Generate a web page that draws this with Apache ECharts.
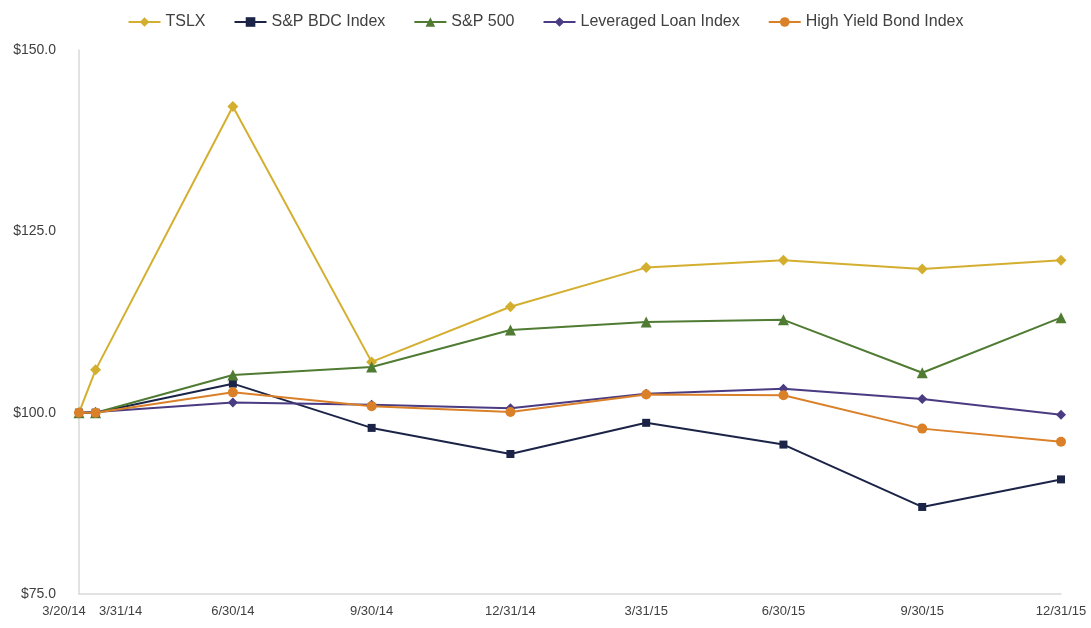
<!DOCTYPE html>
<html>
<head>
<meta charset="utf-8">
<script src="https://cdn.jsdelivr.net/npm/echarts@6/dist/echarts.min.js"></script>
<style>
  html, body { margin: 0; padding: 0; background: #ffffff; }
  #chart { width: 1091px; height: 628px; }
</style>
</head>
<body>
<div id="chart"></div>
<script>
// ---- Data ----
const dates = ['2014-03-20','2014-03-31','2014-06-30','2014-09-30','2014-12-31','2015-03-31','2015-06-30','2015-09-30','2015-12-31'];
const tickLabels = ['3/20/14','3/31/14','6/30/14','9/30/14','12/31/14','3/31/15','6/30/15','9/30/15','12/31/15'];
const seriesNames = ['TSLX','S&P BDC Index','S&P 500','Leveraged Loan Index','High Yield Bond Index'];
const tslx      = [100.0, 105.9, 142.2, 107.0, 114.6, 120.0, 121.0, 119.8, 121.0];
const spBdc     = [100.0, 100.0, 104.0,  97.9,  94.3,  98.6,  95.6,  87.0,  90.8];
const sp500     = [100.0, 100.0, 105.2, 106.3, 111.4, 112.5, 112.8, 105.5, 113.1];
const levLoan   = [100.0, 100.1, 101.4, 101.1, 100.6, 102.6, 103.3, 101.9,  99.7];
const highYield = [100.0, 100.0, 102.8, 100.9, 100.1, 102.5, 102.4,  97.8,  96.0];
const yTicks = [75, 100, 125, 150];

// Days elapsed since the first date: the x position of each observation.
function utc(s) { const p = s.split('-').map(Number); return Date.UTC(p[0], p[1] - 1, p[2]); }
const t0 = utc(dates[0]);
const xVals = dates.map(s => Math.round((utc(s) - t0) / 86400000));
function pairs(vals) { return vals.map((v, i) => [xVals[i], v]); }

const colors = ['#D4AF2F', '#1B2447', '#4F7B32', '#4A3B82', '#DA8029'];
const symbols = ['diamond', 'rect', 'triangle', 'diamond', 'circle'];
const sizes = [11, 8, 11, 10, 10];
const allVals = [tslx, spBdc, sp500, levLoan, highYield];

const font = 'Liberation Sans, Arial, sans-serif';
const chart = echarts.init(document.getElementById('chart'), null, { renderer: 'canvas' });

chart.setOption({
  animation: false,
  backgroundColor: '#ffffff',
  color: colors,
  legend: {
    top: 9,
    left: 'center',
    itemGap: 28,
    itemWidth: 32,
    itemHeight: 12,
    textStyle: { fontFamily: font, fontSize: 16, color: '#404040' },
    data: seriesNames
  },
  grid: { left: 79, right: 30, top: 50, bottom: 34, containLabel: false },
  xAxis: {
    type: 'value',
    min: xVals[0],
    max: xVals[xVals.length - 1],
    axisLine: { show: true, onZero: false, lineStyle: { color: '#d9d9d9', width: 1.5 } },
    axisTick: { show: false },
    splitLine: { show: false },
    axisLabel: {
      customValues: xVals,
      hideOverlap: false,
      margin: 11,
      color: '#404040',
      fontFamily: font,
      fontSize: 13,
      formatter: function (v) {
        const i = xVals.indexOf(v);
        if (i < 0) return '';
        if (i === 0) return '{l|' + tickLabels[i] + '}';
        if (i === 1) return '{r|' + tickLabels[i] + '}';
        return tickLabels[i];
      },
      rich: {
        l: { padding: [0, 30, 0, 0], color: '#404040', fontFamily: font, fontSize: 13 },
        r: { padding: [0, 0, 0, 50], color: '#404040', fontFamily: font, fontSize: 13 }
      }
    }
  },
  yAxis: {
    type: 'value',
    min: yTicks[0],
    max: yTicks[yTicks.length - 1],
    interval: 25,
    axisLine: { show: true, lineStyle: { color: '#d9d9d9', width: 1.5 } },
    axisTick: { show: false },
    splitLine: { show: false },
    axisLabel: {
      margin: 23,
      color: '#404040',
      fontFamily: font,
      fontSize: 14,
      formatter: v => '$' + v.toFixed(1)
    }
  },
  series: seriesNames.map((name, k) => ({
    name: name,
    type: 'line',
    data: pairs(allVals[k]),
    symbol: symbols[k],
    symbolSize: sizes[k],
    showAllSymbol: true,
    lineStyle: { width: 2, color: colors[k] },
    itemStyle: { color: colors[k] },
    z: 2 + k
  }))
});
</script>
</body>
</html>
